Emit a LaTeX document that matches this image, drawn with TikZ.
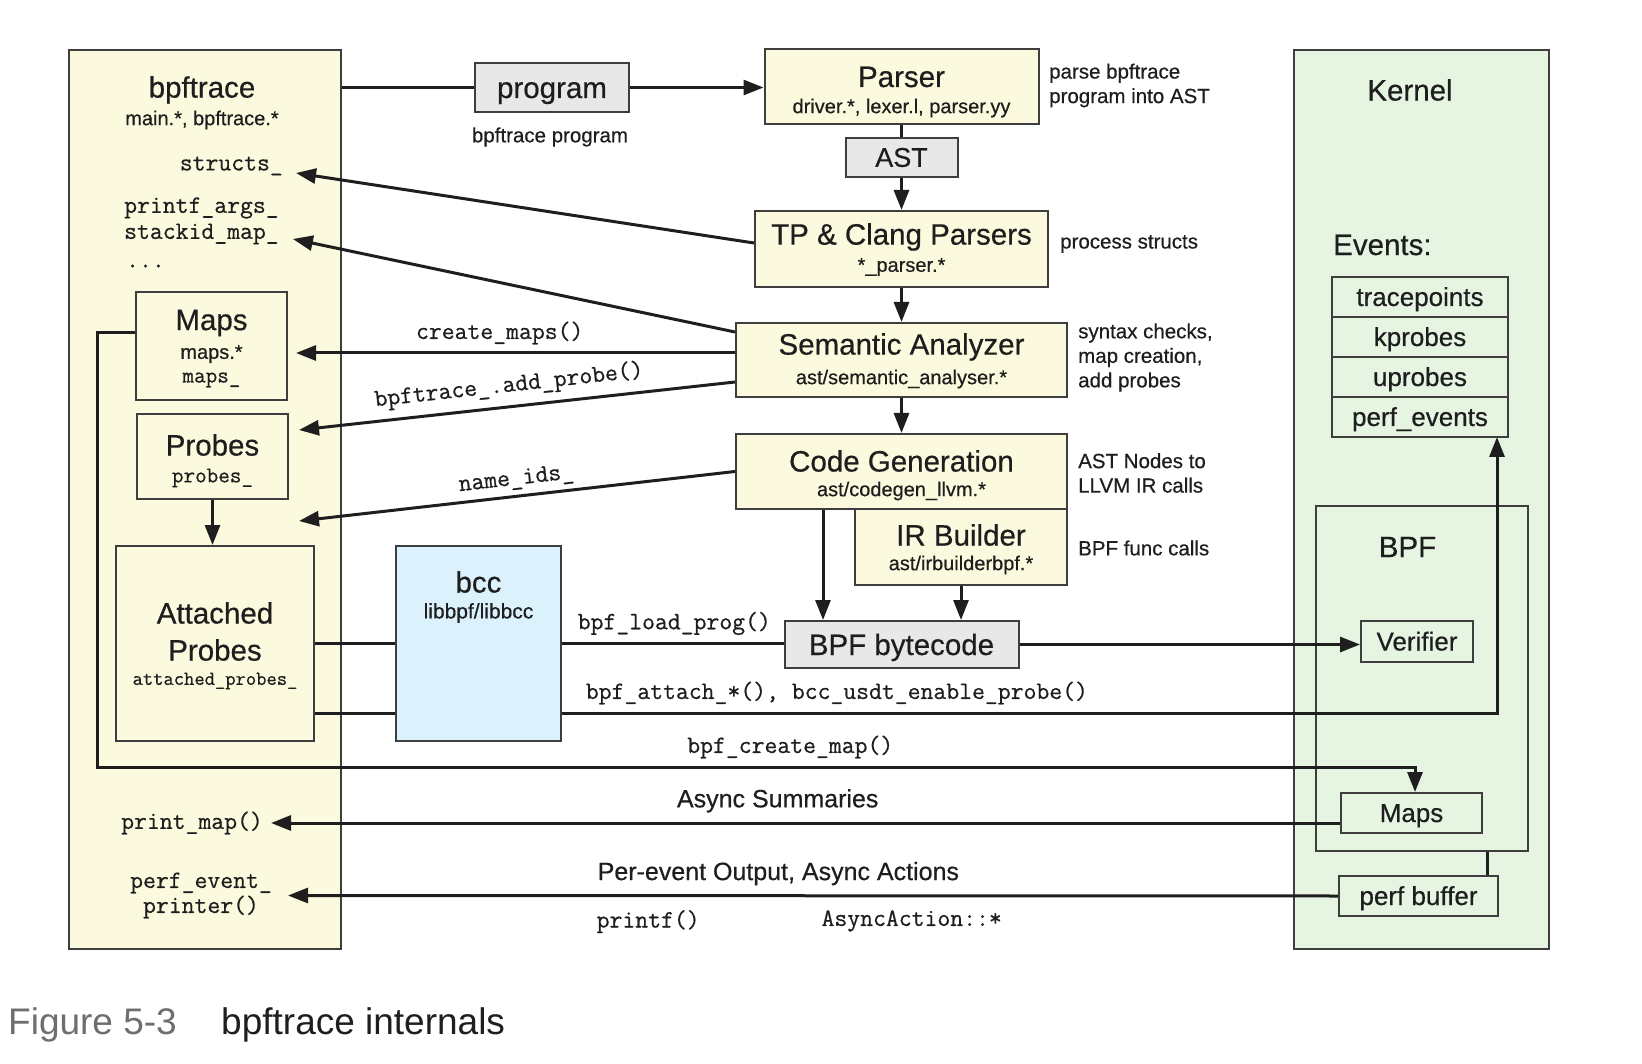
\documentclass[tikz,border=0pt]{standalone}
\usepackage{fontspec}
\setmainfont{Liberation Sans}[FakeBold=0.5]
\setmonofont{Latin Modern Mono}[FakeBold=0.6]
\newfontfamily\capfont{Liberation Sans}
\usepackage{xcolor}
\usepackage{tikz}
\usetikzlibrary{positioning, arrows.meta, shapes.geometric}

\definecolor{cream}{RGB}{252,250,222}
\definecolor{kgreen}{RGB}{229,245,226}
\definecolor{bccblue}{RGB}{219,241,251}
\definecolor{boxgrey}{RGB}{232,232,232}
\definecolor{edge}{RGB}{62,62,62}
\definecolor{ink}{RGB}{30,30,30}
\definecolor{figgrey}{RGB}{110,110,110}

\tikzset{
    box/.style={draw=edge, line width=2pt, inner sep=0pt, text=ink},
    ttl/.style={font=\fontsize{29.5}{34}\selectfont, text=ink, inner sep=0pt},
    sub/.style={font=\fontsize{20}{24}\selectfont, text=ink, inner sep=0pt},
    note/.style={font=\fontsize{20.5}{24.5}\selectfont, text=ink, align=left, anchor=west, inner sep=0pt},
    lbl/.style={font=\fontsize{25}{28}\selectfont, text=ink, inner sep=0pt},
    code/.style={font=\ttfamily\fontsize{25}{28}\selectfont, text=ink, inner sep=0pt},
    kb/.style={box, fill=kgreen, minimum height=40, text height=18pt, text depth=0pt, font=\fontsize{26}{30}\selectfont},
    evt/.style={kb, outer sep=0pt, minimum width=176},
    conn/.style={line width=3pt, draw=ink},
    arr/.style={conn, -{Triangle[length=20pt, width=15pt]}},
    figcap/.style={font=\capfont\fontsize{37}{40}\selectfont, inner sep=0pt, anchor=west}
}

\begin{document}
\begin{tikzpicture}[x=1pt, y=-1pt]
    \useasboundingbox (0,0) rectangle (1642,1064);

    \node[box, fill=cream, minimum width=272, minimum height=899] (bpft) at (205,499.5) {};
    \node[ttl] (bpft-t) at (202,90) {bpftrace};
    \node[sub] (bpft-s) at (202,120) {main.*, bpftrace.*};
    \node[code, anchor=east] (structs) at (283,166) {structs\_};
    \node[code, anchor=west] (pargs) at (124,208) {printf\_args\_};
    \node[code, anchor=west] (stackid) at (124,234) {stackid\_map\_};
    \node[code, anchor=west] (dots) at (126,266) {...};

    \node[box, fill=cream, minimum width=151, minimum height=108] (maps) at (211.5,346) {};
    \node[ttl] (maps-t) at (211.5,323) {Maps};
    \node[sub] (maps-s) at (211.5,354) {maps.*};
    \node[code, font=\ttfamily\fontsize{22.5}{25}\selectfont] (maps-c) at (211.5,380) {maps\_};

    \node[box, fill=cream, minimum width=151, minimum height=85] (probes) at (212.5,456.5) {};
    \node[ttl] (probes-t) at (212.5,445) {Probes};
    \node[code, font=\ttfamily\fontsize{22.5}{25}\selectfont] (probes-c) at (212.5,478) {probes\_};

    \node[box, fill=cream, minimum width=198, minimum height=195] (attp) at (215,643.5) {};
    \node[ttl, align=center, font=\fontsize{29.5}{37}\selectfont] (attp-t) at (215,631.5) {Attached\\Probes};
    \node[code, font=\ttfamily\fontsize{20}{22}\selectfont] (attp-c) at (215,681) {attached\_probes\_};

    \node[code, anchor=west] (pmap) at (121,823) {print\_map()};
    \node[code, align=center, font=\ttfamily\fontsize{25}{25}\selectfont] (pevt) at (201,895.5) {perf\_event\_\\printer()};

    \node[box, fill=bccblue, minimum width=165, minimum height=195] (bcc) at (478.5,643.5) {};
    \node[ttl] (bcc-t) at (478.5,582) {bcc};
    \node[sub, font=\fontsize{21}{24}\selectfont] (bcc-s) at (478.5,613) {libbpf/libbcc};

    \node[box, fill=boxgrey, minimum width=154, minimum height=49, text height=21pt, text depth=0pt, font=\fontsize{29.5}{34}\selectfont] (prog) at (552,87.5) {program};
    \node[note, anchor=center] (prog-n) at (550,137) {bpftrace program};

    \node[box, fill=cream, minimum width=274, minimum height=75] (parser) at (901.5,86.5) {};
    \node[ttl] (parser-t) at (901.5,77) {Parser};
    \node[sub] (parser-s) at (901.5,108) {driver.*, lexer.l, parser.yy};
    \node[note] (parser-n) at (1049,85.5) {parse bpftrace\\program into AST};

    \node[box, fill=boxgrey, minimum width=112, minimum height=39, font=\fontsize{27}{30}\selectfont] (ast) at (901.5,157.5) {AST};

    \node[box, fill=cream, minimum width=293, minimum height=76] (tp) at (901.5,249) {};
    \node[ttl] (tp-t) at (901.5,237) {TP \& Clang Parsers};
    \node[sub] (tp-s) at (901.5,267) {*\_parser.*};
    \node[note] (tp-n) at (1060,244) {process structs};

    \node[box, fill=cream, minimum width=331, minimum height=74] (sem) at (901.5,360) {};
    \node[ttl] (sem-t) at (901.5,347) {Semantic Analyzer};
    \node[sub] (sem-s) at (901.5,379) {ast/semantic\_analyser.*};
    \node[note] (sem-n) at (1078,357.5) {syntax checks,\\map creation,\\add probes};

    \node[box, fill=cream, minimum width=331, minimum height=75] (cg) at (901.5,471.5) {};
    \node[ttl] (cg-t) at (901.5,461) {Code Generation};
    \node[sub] (cg-s) at (901.5,491) {ast/codegen\_llvm.*};
    \node[note] (cg-n) at (1078,473) {AST Nodes to\\LLVM IR calls};

    \node[box, fill=cream, minimum width=212, minimum height=76] (ir) at (961,547) {};
    \node[ttl] (ir-t) at (961,535) {IR Builder};
    \node[sub] (ir-s) at (961,565) {ast/irbuilderbpf.*};
    \node[note] (ir-n) at (1078,548) {BPF func calls};

    \node[box, fill=boxgrey, minimum width=234, minimum height=47, text height=21pt, text depth=0pt, font=\fontsize{29.5}{34}\selectfont] (bytec) at (901.5,644.5) {BPF bytecode};

    \node[box, fill=kgreen, minimum width=255, minimum height=899] (kern) at (1421.5,499.5) {};
    \node[ttl] (kern-t) at (1410,90) {Kernel};
    \node[ttl, anchor=west] (evts-t) at (1333,245) {Events:};
    \node[evt] (tracep) at (1420,297) {tracepoints};
    \node[evt, below=0pt of tracep] (kprobes) {kprobes};
    \node[evt, below=0pt of kprobes] (uprobes) {uprobes};
    \node[evt, below=0pt of uprobes] (pevents) {perf\_events};

    \node[box, fill=kgreen, minimum width=212, minimum height=345] (bpfk) at (1422,678.5) {};
    \node[ttl] (bpfk-t) at (1407.5,547) {BPF};
    \node[kb, minimum width=112, minimum height=41] (verif) at (1417,641.5) {Verifier};
    \node[kb, minimum width=141] (mapsk) at (1411.5,813) {Maps};
    \node[kb, minimum width=159] (pbuf) at (1418.5,896) {perf buffer};

    \coordinate (cg-out) at ([xshift=88pt]cg.south west);
    \coordinate (bpf-out) at ([xshift=-42pt]bpfk.south east);

    \draw[conn] (bpft.east |- prog) -- (prog);
    \draw[arr] (prog) -- (prog -| parser.west);
    \draw[conn] (parser.south) -- (ast.north);
    \draw[arr] (ast.south) -- (tp.north);
    \draw[arr] (tp.south) -- (sem.north);
    \draw[arr] (sem.south) -- (cg.north);

    \draw[arr] ([yshift=6pt]tp.west) -- ([xshift=13pt, yshift=-7pt]structs.east);
    \draw[arr] ([yshift=-10pt]sem.north west) -- ([xshift=14pt, yshift=-5pt]stackid.east);
    \draw[arr] ([yshift=7pt]sem.west) -- node[code, above=7pt, pos=.536] (l-cmaps) {create\_maps()} ([xshift=8pt, yshift=-7pt]maps.east);
    \draw[arr] ([yshift=16pt]sem.south west) -- node[code, sloped, above=8pt, pos=.513] (l-addp) {bpftrace\_.add\_probe()} ([xshift=10pt, yshift=26.5pt]probes.east);
    \draw[arr] (cg.west) -- node[code, sloped, above=5pt, pos=.497] (l-nids) {name\_ids\_} ([xshift=10pt, yshift=-21pt]probes.south east);
    \draw[arr] (probes.south) -- (probes.south |- attp.north);

    \draw[arr] (cg-out) -- (cg-out |- bytec.north);
    \draw[arr] (ir.south) -- (ir.south |- bytec.north);

    \draw[conn] (attp.east) -- (bcc.west);
    \draw[conn] (bcc.east) -- node[code, above=7pt, pos=.507] (l-load) {bpf\_load\_prog()} (bcc.east -| bytec.west);
    \draw[arr] (bytec.east) -- (bytec.east -| verif.west);

    \draw[conn] ([yshift=29pt]attp.south east) -- ([yshift=29pt]bcc.south west);
    \draw[arr] ([yshift=29pt]bcc.south east) -| node[code, above=7pt, pos=.147] (l-attach) {bpf\_attach\_*(), bcc\_usdt\_enable\_probe()} ([xshift=-11pt]pevents.south east);

    \draw[arr] ([yshift=13pt]maps.west) -- ++(-38,0) -- ++(0,434) -| node[code, above=7pt, pos=.263] (l-cmap) {bpf\_create\_map()} ([xshift=3.5pt]mapsk.north);

    \draw[arr] ([yshift=-10pt]mapsk.west) -- node[lbl, above=9pt, pos=.526] (l-async) {Async Summaries} ([xshift=8pt]pmap.east);

    \draw[conn] (bpf-out) -- (bpf-out |- pbuf.north);
    \draw[arr] (pbuf.west) -- node[lbl, above=9pt, pos=.533] (l-perf) {Per-event Output, Async Actions}
        node[code, below=13pt, pos=.657] (l-printf) {printf()}
        node[code, below=13pt, pos=.406] (l-aact) {AsyncAction::*} ([xshift=16pt]pevt.east);

    \node[figcap, text=figgrey] (fig-no) at (8,1025) {Figure 5-3};
    \node[figcap, text=ink, right=44pt of fig-no] (fig-txt) {bpftrace internals};
\end{tikzpicture}
\end{document}
